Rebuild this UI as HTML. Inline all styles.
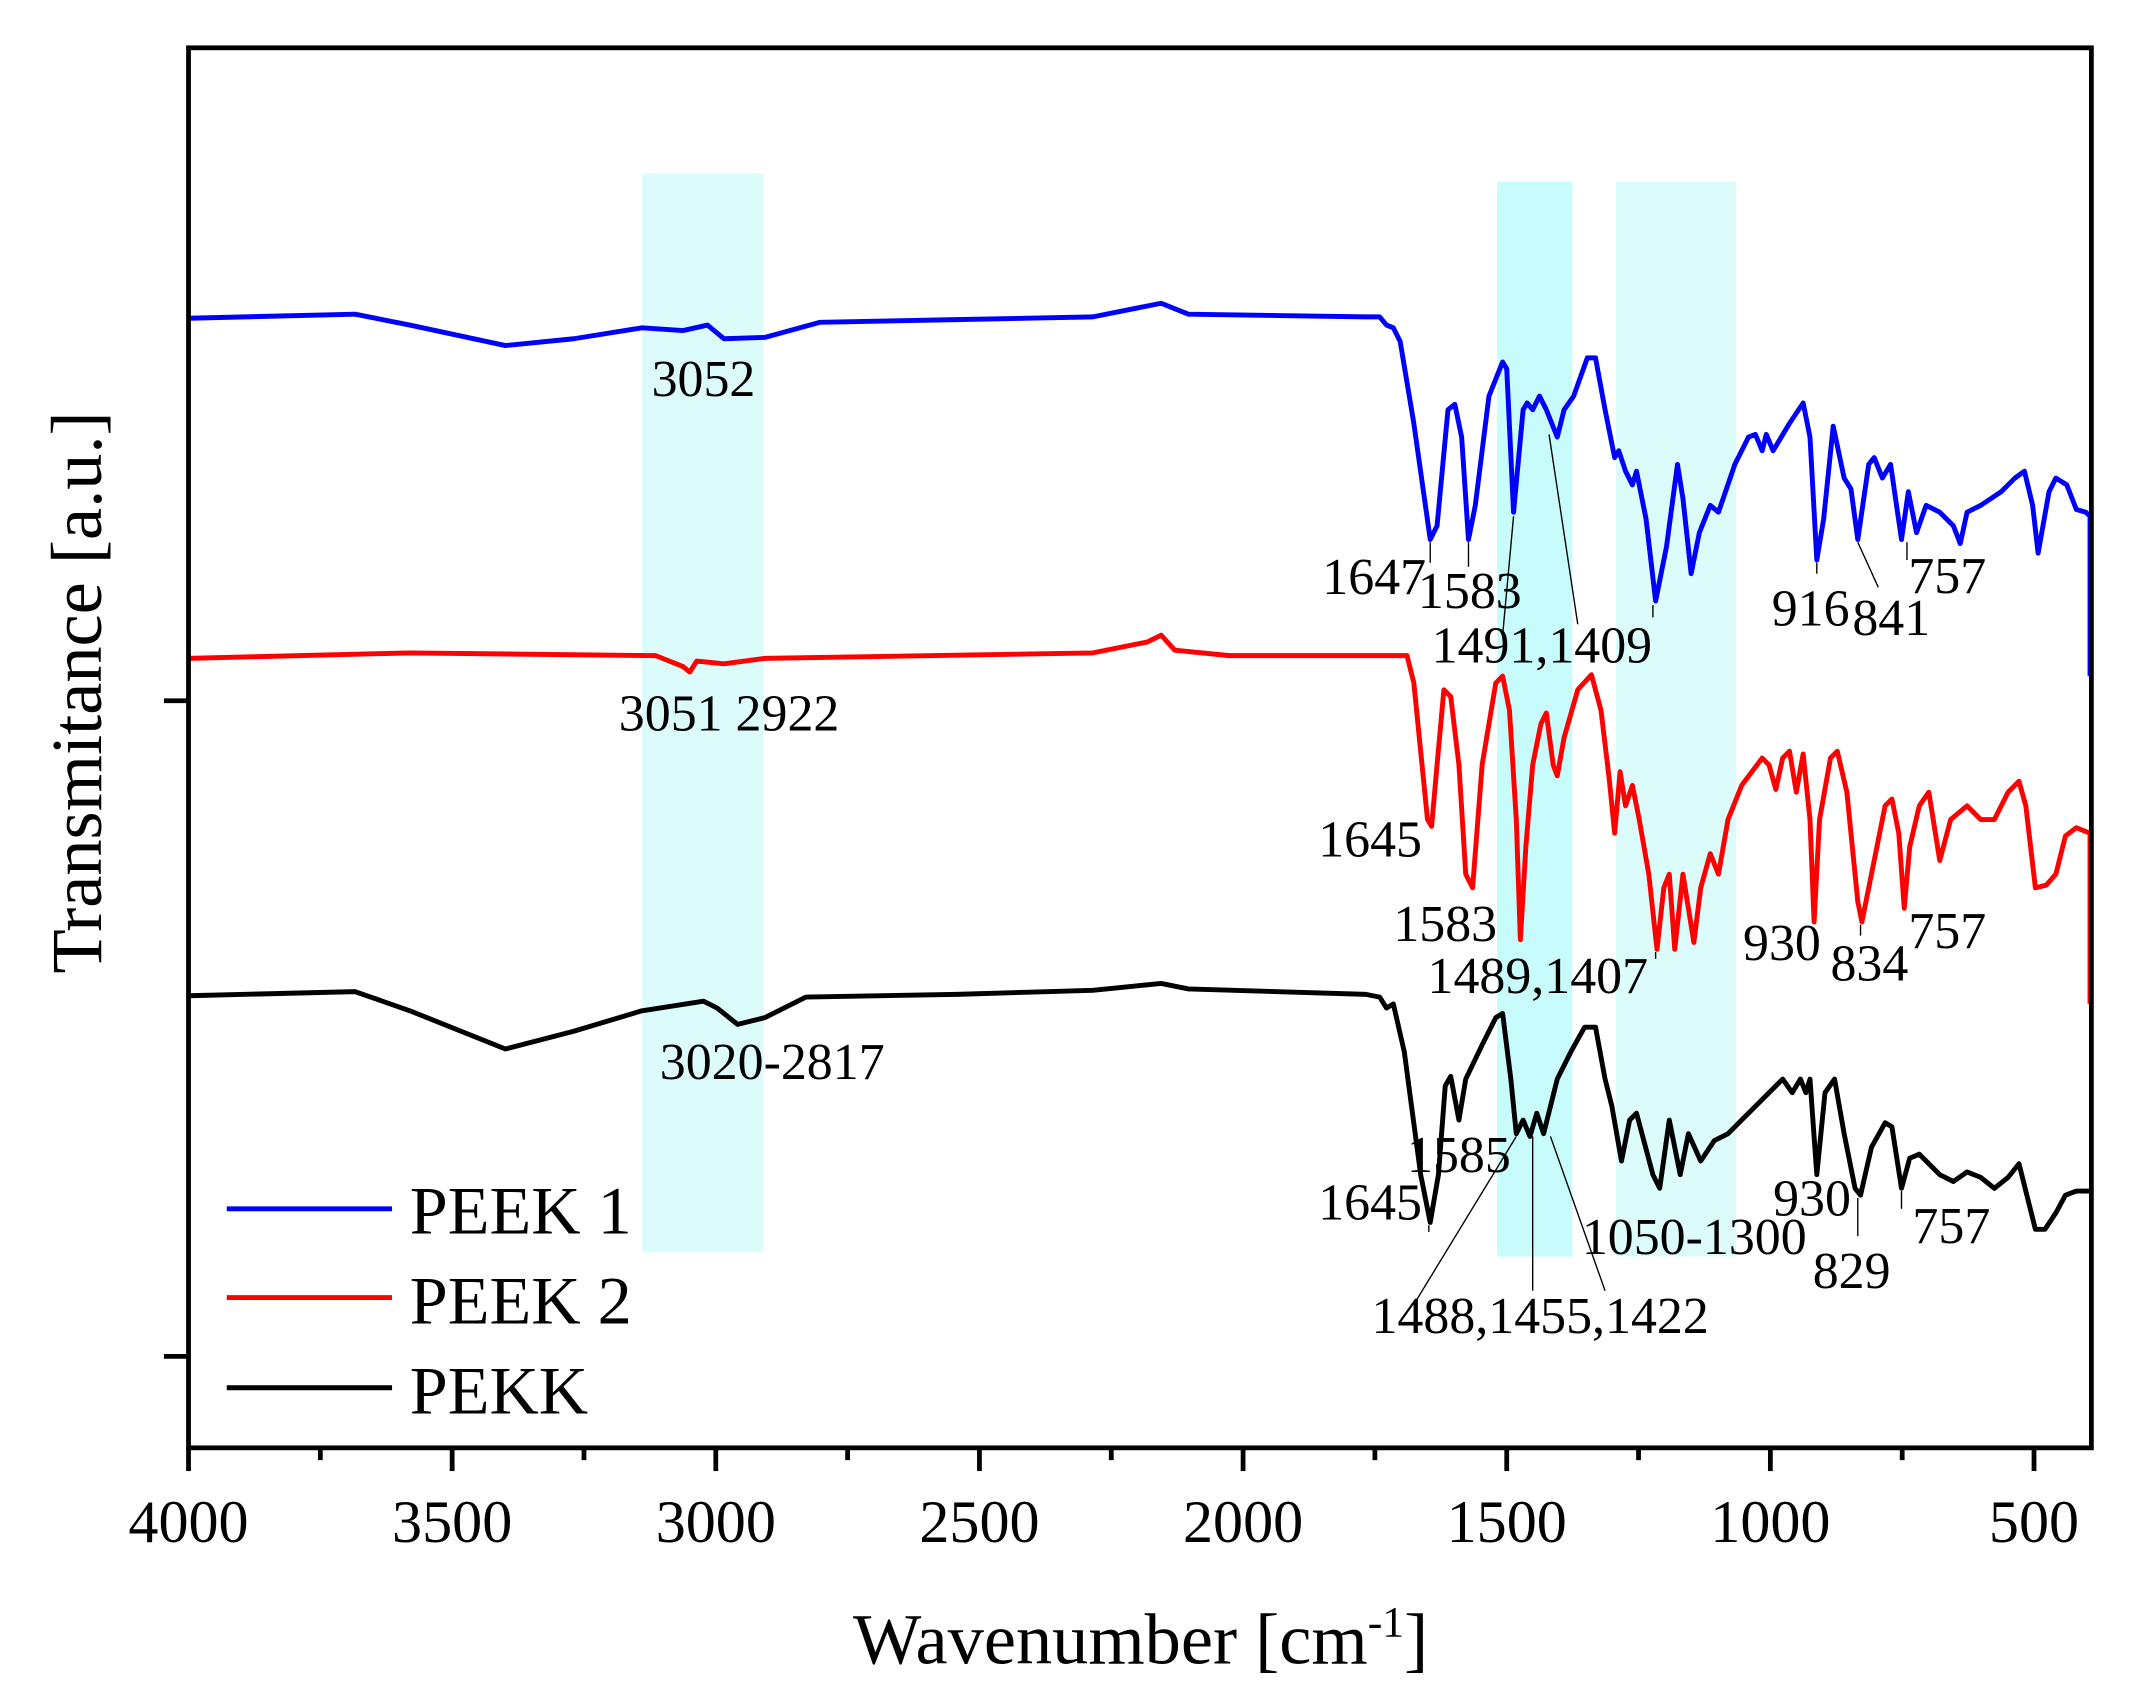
<!DOCTYPE html>
<html><head><meta charset="utf-8"><style>html,body{margin:0;padding:0;background:#fff}svg{display:block}</style></head>
<body>
<svg width="2131" height="1706" viewBox="0 0 1560 1249" preserveAspectRatio="none" xmlns="http://www.w3.org/2000/svg" font-family="Liberation Serif, serif">
<rect x="470" y="127" width="89" height="790" fill="#dcfcfc"/>
<rect x="1096" y="133" width="55" height="787" fill="#c8fcfc"/>
<rect x="1183" y="133" width="88" height="787" fill="#dcfcfc"/>
<g fill="none" stroke-width="3.6" stroke-linejoin="round">
<polyline stroke="#0000ff" points="138,233 260,230 300,238 370,253 420,248 470,240 500,242 518,238 530,248 560,247 600,236 700,234 800,232 830,226 850,222 870,230 1000,232 1010,232 1015,238 1020,240 1025,250 1035,310 1047,395 1052,385 1060,300 1065,296 1070,320 1075,395 1080,370 1090,290 1100,265 1103,270 1108,375 1115,300 1118,295 1122,300 1127,290 1132,300 1140,320 1145,300 1152,290 1162,262 1168,262 1175,300 1182,335 1185,330 1190,345 1195,355 1198,345 1205,380 1212,440 1220,400 1228,340 1232,365 1238,420 1244,390 1252,370 1258,375 1270,340 1280,320 1285,318 1290,330 1293,318 1298,330 1310,310 1320,295 1325,320 1330,410 1335,380 1342,312 1350,350 1355,358 1360,395 1368,340 1372,335 1378,350 1384,340 1392,395 1397,360 1403,390 1410,370 1420,375 1430,385 1435,398 1440,375 1450,370 1465,360 1475,350 1482,345 1488,370 1492,405 1500,360 1505,350 1513,355 1520,373 1527,375 1530,378 1530,495"/>
<polyline stroke="#ff0000" points="138,482 300,478 480,480 500,488 505,492 510,484 530,486 560,482 800,478 840,470 850,465 860,476 900,480 1000,480 1030,480 1035,500 1045,600 1048,605 1052,560 1057,505 1062,510 1068,560 1073,640 1078,650 1085,560 1095,500 1100,495 1105,520 1110,600 1113,688 1117,620 1122,560 1128,530 1132,522 1137,560 1140,568 1145,540 1155,505 1165,494 1172,520 1178,570 1182,610 1186,565 1190,590 1195,575 1200,600 1207,640 1213,695 1218,650 1222,640 1226,695 1232,640 1236,665 1240,690 1245,650 1252,625 1258,640 1265,600 1275,575 1290,555 1295,560 1300,578 1305,555 1310,550 1315,580 1320,552 1325,600 1328,675 1332,600 1340,555 1345,550 1352,580 1360,660 1363,675 1370,640 1380,590 1385,585 1390,610 1394,665 1398,620 1405,590 1412,580 1420,630 1428,600 1440,590 1450,600 1460,600 1470,580 1478,572 1483,590 1490,650 1498,648 1505,640 1512,612 1520,606 1530,610 1530,735"/>
<polyline stroke="#000" points="138,729 260,726 300,740 370,768 420,755 470,740 515,733 525,738 540,750 560,745 590,730 700,728 800,725 830,722 850,720 870,724 1000,728 1010,730 1015,738 1020,735 1028,770 1040,860 1047,895 1053,860 1058,795 1062,788 1068,820 1073,790 1085,765 1095,745 1100,742 1106,790 1110,830 1115,820 1120,832 1125,815 1130,830 1135,810 1140,790 1150,770 1160,752 1168,752 1175,790 1180,810 1187,850 1193,820 1198,815 1202,830 1210,860 1215,870 1222,820 1226,840 1230,860 1236,830 1245,850 1255,835 1265,830 1275,820 1285,810 1295,800 1305,790 1312,800 1318,790 1322,800 1325,790 1330,860 1336,800 1343,790 1350,830 1358,870 1362,875 1370,840 1380,822 1385,825 1392,870 1398,848 1405,845 1412,852 1420,860 1430,865 1440,858 1450,862 1460,870 1470,862 1478,852 1485,880 1490,900 1497,900 1505,888 1512,875 1520,872 1530,872"/>
</g>
<g stroke="#000" stroke-width="1">
<line x1="1047" y1="397" x2="1047" y2="412"/><line x1="1075" y1="397" x2="1075" y2="415"/>
<line x1="1108" y1="378" x2="1100" y2="465"/><line x1="1134" y1="318" x2="1155" y2="457"/>
<line x1="1210" y1="443" x2="1210" y2="452"/><line x1="1330" y1="412" x2="1330" y2="420"/>
<line x1="1360" y1="397" x2="1375" y2="430"/><line x1="1396" y1="397" x2="1396" y2="410"/>
<line x1="1212" y1="697" x2="1212" y2="702"/><line x1="1362" y1="677" x2="1362" y2="685"/>
<line x1="1046" y1="897" x2="1046" y2="902"/><line x1="1110" y1="832" x2="1035" y2="955"/>
<line x1="1122" y1="832" x2="1122" y2="945"/><line x1="1135" y1="832" x2="1175" y2="945"/>
<line x1="1360" y1="877" x2="1360" y2="905"/><line x1="1392" y1="872" x2="1392" y2="885"/>
</g>
<g font-size="38" fill="#000">
<text x="477" y="290">3052</text><text x="968" y="435">1647</text><text x="1038" y="445">1583</text>
<text x="1048" y="485">1491,1409</text><text x="1297" y="458">916</text><text x="1356" y="465">841</text>
<text x="1397" y="434">757</text><text x="453" y="535">3051 2922</text><text x="965" y="627">1645</text>
<text x="1020" y="689">1583</text><text x="1045" y="727">1489,1407</text><text x="1276" y="703">930</text>
<text x="1340" y="718">834</text><text x="1397" y="694">757</text><text x="483" y="790">3020-2817</text>
<text x="1030" y="858">1585</text><text x="965" y="893">1645</text><text x="1158" y="918">1050-1300</text>
<text x="1298" y="890">930</text><text x="1400" y="910">757</text><text x="1327" y="943">829</text>
<text x="1004" y="976">1488,1455,1422</text>
</g>
<rect x="138" y="35" width="1393" height="1025" fill="none" stroke="#000" stroke-width="3.5"/>
<g stroke="#000" stroke-width="3.5">
<line x1="138" y1="1060" x2="138" y2="1077"/><line x1="331" y1="1060" x2="331" y2="1077"/><line x1="524" y1="1060" x2="524" y2="1077"/><line x1="717" y1="1060" x2="717" y2="1077"/><line x1="910" y1="1060" x2="910" y2="1077"/><line x1="1103" y1="1060" x2="1103" y2="1077"/><line x1="1296" y1="1060" x2="1296" y2="1077"/><line x1="1489" y1="1060" x2="1489" y2="1077"/>
<line x1="234.5" y1="1060" x2="234.5" y2="1069"/><line x1="427.5" y1="1060" x2="427.5" y2="1069"/><line x1="620.5" y1="1060" x2="620.5" y2="1069"/><line x1="813.5" y1="1060" x2="813.5" y2="1069"/><line x1="1006.5" y1="1060" x2="1006.5" y2="1069"/><line x1="1199.5" y1="1060" x2="1199.5" y2="1069"/><line x1="1392.5" y1="1060" x2="1392.5" y2="1069"/>
<line x1="120" y1="513" x2="138" y2="513"/><line x1="120" y1="993" x2="138" y2="993"/>
</g>
<g font-size="44" text-anchor="middle">
<text x="138" y="1129">4000</text><text x="331" y="1129">3500</text><text x="524" y="1129">3000</text><text x="717" y="1129">2500</text><text x="910" y="1129">2000</text><text x="1103" y="1129">1500</text><text x="1296" y="1129">1000</text><text x="1489" y="1129">500</text>
</g>
<text x="835" y="1218" font-size="53" text-anchor="middle">Wavenumber [cm<tspan font-size="32" dy="-20">-1</tspan><tspan dy="20">]</tspan></text>
<text transform="translate(74,507) rotate(-90)" font-size="53" text-anchor="middle">Transmitance [a.u.]</text>
<g stroke-width="3.6"><line x1="166" y1="885" x2="287" y2="885" stroke="#0000ff"/><line x1="166" y1="950" x2="287" y2="950" stroke="#ff0000"/><line x1="166" y1="1016" x2="287" y2="1016" stroke="#000"/></g>
<g font-size="50"><text x="300" y="903">PEEK 1</text><text x="300" y="969">PEEK 2</text><text x="300" y="1035">PEKK</text></g>
</svg>
</body></html>
